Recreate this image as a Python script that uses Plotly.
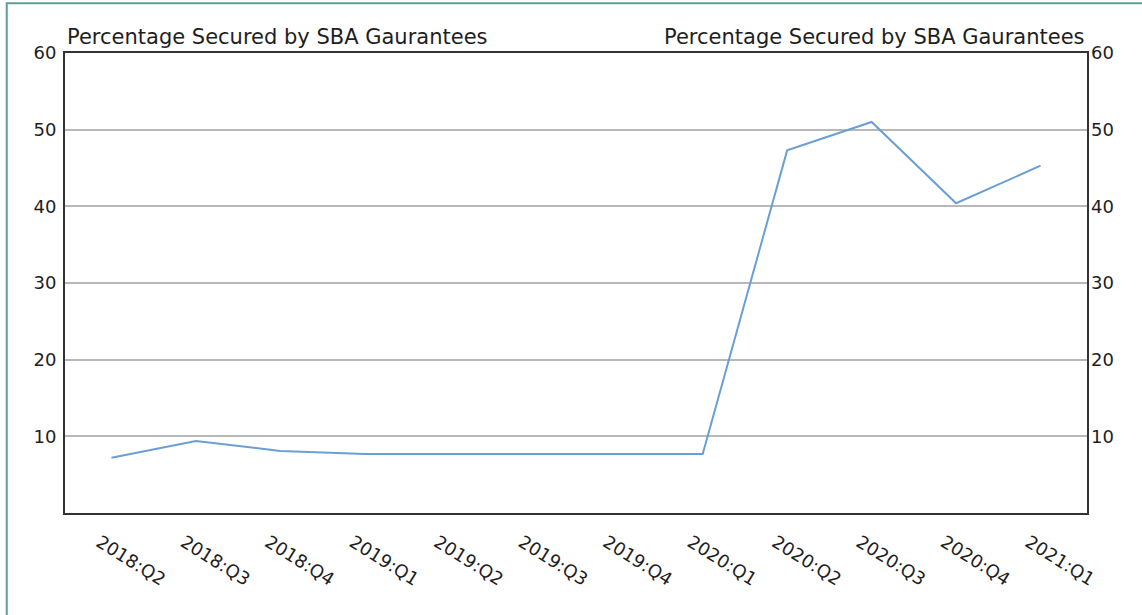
import plotly.graph_objects as go

quarters = ["2018:Q2", "2018:Q3", "2018:Q4", "2019:Q1", "2019:Q2", "2019:Q3",
            "2019:Q4", "2020:Q1", "2020:Q2", "2020:Q3", "2020:Q4", "2021:Q1"]
pct_sba = [7.2, 9.4, 8.1, 7.7, 7.7, 7.7, 7.7, 7.7, 47.3, 51.0, 40.4, 45.3]
y_ticks = [10, 20, 30, 40, 50, 60]
title_text = "Percentage Secured by SBA Gaurantees"

line_color = "#6a9fd4"
text_color = "#1e1e1e"
font_family = "DejaVu Sans"

fig = go.Figure()
fig.add_trace(go.Scatter(x=quarters, y=pct_sba, mode="lines",
                         line=dict(color=line_color, width=2), showlegend=False))
# same series on the right axis, invisible, so the right scale gets drawn
fig.add_trace(go.Scatter(x=quarters, y=pct_sba, mode="lines", yaxis="y2",
                         line=dict(color="rgba(0,0,0,0)", width=0),
                         hoverinfo="skip", showlegend=False))

axis_font = dict(family=font_family, size=18, color=text_color)
title_font = dict(family=font_family, size=21, color=text_color)

fig.update_layout(
    width=1142, height=615,
    paper_bgcolor="white", plot_bgcolor="white",
    margin=dict(l=65, r=55, t=53, b=102),
    font=dict(family=font_family, color=text_color),
    xaxis=dict(type="category", range=[-0.55, 11.55], tickangle=32,
               tickfont=axis_font, showgrid=False, showline=True,
               linecolor="#333333", linewidth=2, mirror=True, ticks="",
               ticklabelstandoff=10, ticklabelshift=-12, automargin=False),
    yaxis=dict(range=[0, 60], tickvals=y_ticks, tickfont=axis_font,
               showgrid=True, gridcolor="#b8b8b8", gridwidth=1.5,
               zeroline=False, showline=True, linecolor="#333333",
               linewidth=2, mirror=True, ticks="", ticklabelstandoff=3,
               automargin=False),
    yaxis2=dict(range=[0, 60], tickvals=y_ticks, tickfont=axis_font,
                overlaying="y", side="right", showgrid=False,
                zeroline=False, showline=False, ticks="", ticklabelstandoff=3,
                automargin=False),
    annotations=[
        dict(text=title_text, xref="paper", yref="paper", x=0, y=1,
             xanchor="left", yanchor="bottom", showarrow=False,
             font=title_font, yshift=2),
        dict(text=title_text, xref="paper", yref="paper", x=1, y=1,
             xanchor="right", yanchor="bottom", showarrow=False,
             font=title_font, yshift=2),
    ],
    shapes=[
        dict(type="rect", xref="paper", yref="paper", x0=-0.057, x1=1.2,
             y0=-0.5, y1=1.108, line=dict(color="#5f9c98", width=2)),
    ],
)

# drop the default body margin so the figure sits at the window's corner
fig.write_html("out.html", config={"displayModeBar": False},
               post_script="document.body.style.margin='0px';")
